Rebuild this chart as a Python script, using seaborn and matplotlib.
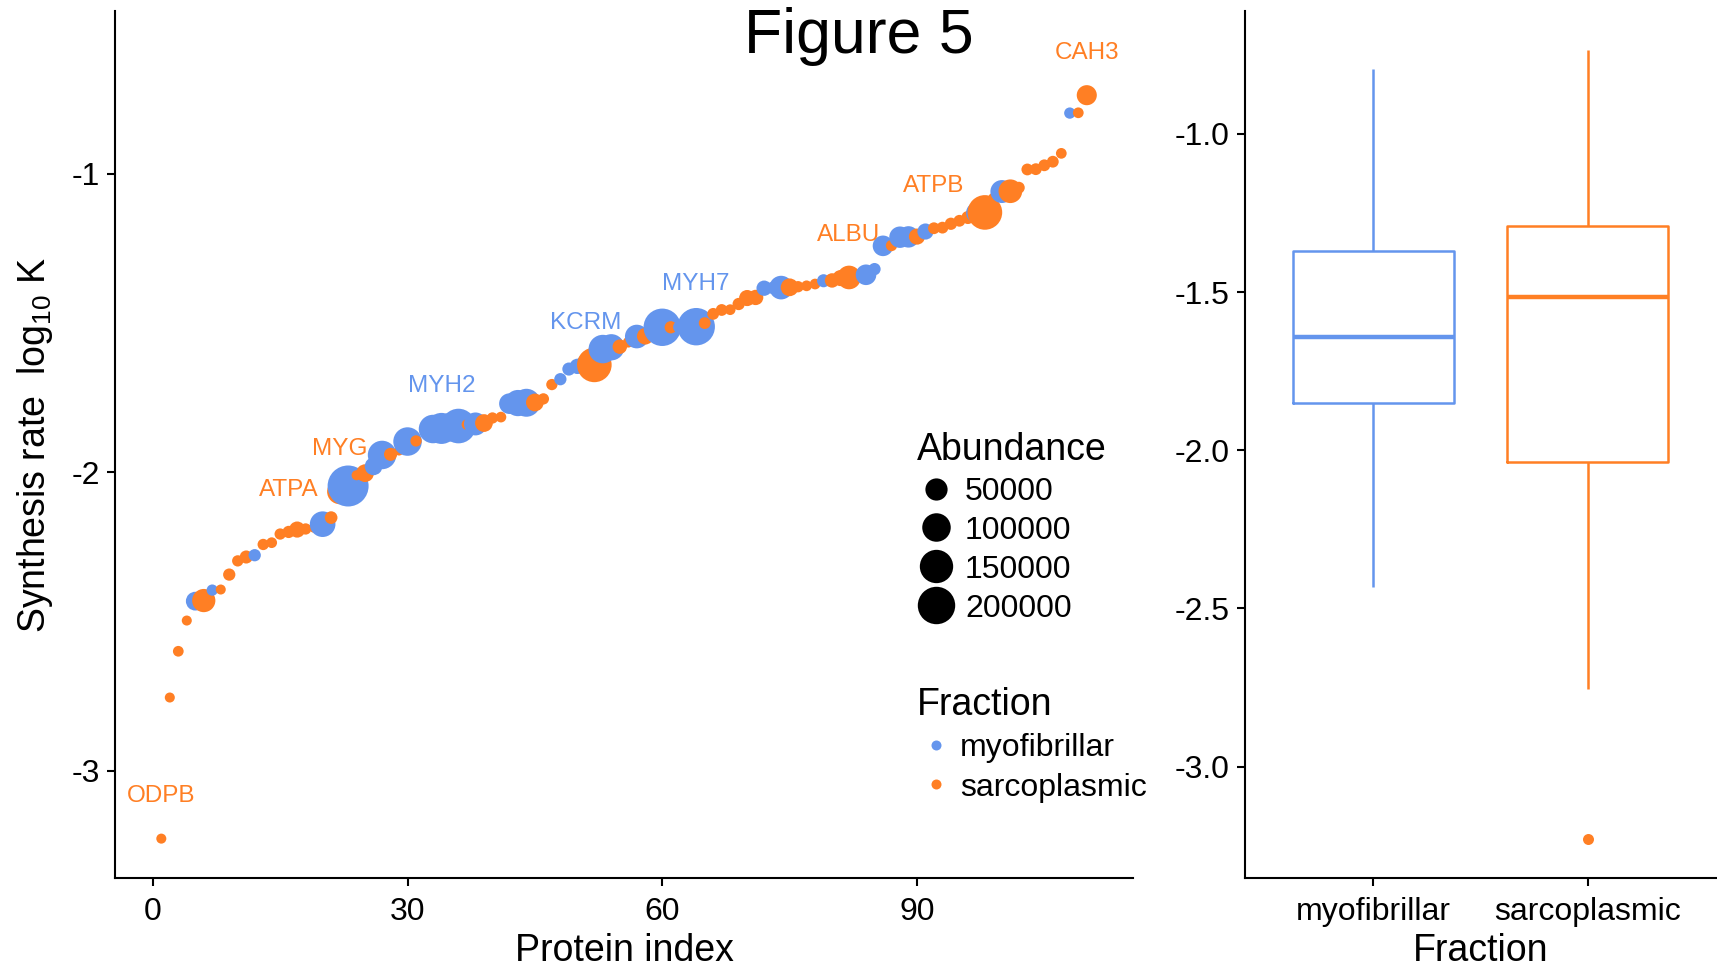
import numpy as np
import pandas as pd
import matplotlib
matplotlib.use("Agg")
import matplotlib.pyplot as plt
from matplotlib.lines import Line2D
import seaborn as sns

# ---- data: proteins ordered by synthesis rate (log10 K) ----
rate = [
    -3.228, -2.755, -2.600, -2.497, -2.432, -2.430, -2.395, -2.393, -2.343, -2.297,
    -2.284, -2.278, -2.242, -2.236, -2.207, -2.200, -2.192, -2.190, -2.186, -2.174,
    -2.152, -2.065, -2.046, -2.010, -2.003, -1.980, -1.942, -1.940, -1.927, -1.897,
    -1.895, -1.860, -1.855, -1.853, -1.849, -1.845, -1.840, -1.838, -1.835, -1.818,
    -1.815, -1.770, -1.768, -1.767, -1.766, -1.754, -1.706, -1.688, -1.654, -1.645,
    -1.641, -1.640, -1.587, -1.581, -1.579, -1.564, -1.545, -1.544, -1.516, -1.514,
    -1.514, -1.513, -1.513, -1.512, -1.500, -1.469, -1.456, -1.455, -1.436, -1.416,
    -1.414, -1.383, -1.382, -1.381, -1.380, -1.378, -1.375, -1.369, -1.358, -1.357,
    -1.349, -1.347, -1.342, -1.338, -1.319, -1.241, -1.240, -1.212, -1.211, -1.210,
    -1.193, -1.182, -1.180, -1.167, -1.157, -1.146, -1.130, -1.129, -1.080, -1.059,
    -1.058, -1.046, -0.985, -0.984, -0.971, -0.959, -0.931, -0.796, -0.795, -0.736,
]

# m = myofibrillar, s = sarcoplasmic
fraction_code = [
    "s", "s", "s", "s", "m", "s", "m", "s", "s", "s",
    "s", "m", "s", "s", "s", "s", "s", "s", "s", "m",
    "s", "s", "m", "s", "s", "m", "m", "s", "s", "m",
    "s", "s", "m", "m", "m", "m", "s", "m", "s", "s",
    "s", "m", "m", "m", "s", "s", "s", "m", "m", "m",
    "m", "s", "m", "m", "s", "s", "m", "s", "s", "m",
    "s", "m", "s", "m", "s", "s", "s", "s", "s", "s",
    "s", "m", "m", "m", "s", "s", "s", "s", "m", "s",
    "s", "s", "s", "m", "m", "m", "s", "m", "m", "s",
    "m", "s", "s", "s", "s", "s", "m", "s", "s", "m",
    "s", "s", "s", "s", "s", "s", "s", "m", "s", "s",
]

abundance = [
    2000, 2000, 3000, 2000, 30000, 57000, 4000, 2000, 6000, 4000,
    8000, 6000, 4000, 3000, 4000, 6000, 18000, 4000, 2000, 75000,
    7000, 70000, 250000, 2000, 25000, 25000, 100000, 8000, 2000, 100000,
    4000, 2000, 100000, 125000, 100000, 165000, 3000, 55000, 25000, 4000,
    3000, 40000, 80000, 95000, 25000, 4000, 4000, 6000, 8000, 15000,
    40000, 165000, 100000, 80000, 12000, 3000, 60000, 20000, 2000, 200000,
    6000, 6000, 2000, 200000, 5000, 5000, 5000, 3000, 6000, 18000,
    15000, 15000, 6000, 60000, 25000, 4000, 3000, 3000, 8000, 12000,
    18000, 60000, 6000, 40000, 6000, 40000, 4000, 45000, 45000, 18000,
    18000, 5000, 5000, 6000, 5000, 8000, 40000, 165000, 2000, 55000,
    60000, 5000, 5000, 5000, 5000, 5000, 3000, 4000, 3000, 37000,
]

# named proteins: rank position -> gene label
label_rank = [1, 16, 22, 34, 51, 64, 82, 92, 110]
label_name = ["ODPB", "ATPA", "MYG", "MYH2", "KCRM", "MYH7", "ALBU", "ATPB", "CAH3"]

fraction_names = {"m": "myofibrillar", "s": "sarcoplasmic"}
fraction_order = ["myofibrillar", "sarcoplasmic"]
legend_sizes = [50000, 100000, 150000, 200000]

palette = {"myofibrillar": "#6495ED", "sarcoplasmic": "#FF7F24"}

df = pd.DataFrame({
    "rate": rate,
    "fraction": [fraction_names[c] for c in fraction_code],
    "abundance": abundance,
})
df = df.sort_values("rate", kind="stable").reset_index(drop=True)
df["index"] = np.arange(1, len(df) + 1)

# ---- styling ----
sns.set_theme(style="white")
plt.rcParams["font.family"] = ["Liberation Sans", "DejaVu Sans"]
plt.rcParams["mathtext.fontset"] = "custom"
plt.rcParams["mathtext.rm"] = "Liberation Sans"
plt.rcParams["mathtext.it"] = "Liberation Sans"
plt.rcParams["axes.unicode_minus"] = False
plt.rcParams["text.color"] = "black"
plt.rcParams["axes.labelcolor"] = "black"

DPI = 100
PX = 72.0 / DPI  # points per pixel


def marker_diameter_pt(v):
    return (7.0 + 0.068 * np.sqrt(v)) * PX


size_map = {v: marker_diameter_pt(v) ** 2 for v in sorted(set(df["abundance"]))}

fig = plt.figure(figsize=(17.17, 9.67), dpi=DPI)
ax = fig.add_axes([0.0670, 0.0920, 0.5929, 0.8966])
ax2 = fig.add_axes([0.7251, 0.0920, 0.2743, 0.8966])

# ---- left: synthesis rate by protein rank ----
sns.scatterplot(
    data=df, x="index", y="rate", hue="fraction", hue_order=fraction_order,
    size="abundance", sizes=size_map, palette=palette, linewidth=0,
    alpha=1.0, legend=False, ax=ax,
)

label_offset = 0.15
label_y = []
for rk, name in zip(label_rank, label_name):
    row = df.loc[df["index"] == rk].iloc[0]
    ly = row["rate"] + label_offset
    label_y.append(ly)
    ax.text(row["index"], ly, name, ha="center", va="center_baseline",
            fontsize=17.5, color=palette[row["fraction"]])

xmin, xmax = df["index"].min(), df["index"].max()
ymin = min(df["rate"].min(), min(label_y))
ymax = max(df["rate"].max(), max(label_y))
xpad = 0.05 * (xmax - xmin)
ypad = 0.05 * (ymax - ymin)
ax.set_xlim(xmin - xpad, xmax + xpad)
ax.set_ylim(ymin - ypad, ymax + ypad)
ax.set_xticks([0, 30, 60, 90])
ax.set_yticks([-3, -2, -1])
ax.set_xlabel("Protein index", fontsize=27, labelpad=4)
ax.set_ylabel("Synthesis rate  log$_{10}$ K", fontsize=27, labelpad=12)

# legends
size_handles = [
    Line2D([], [], marker="o", linestyle="", color="black",
           markersize=marker_diameter_pt(v), markeredgewidth=0)
    for v in legend_sizes
]
leg1 = ax.legend(
    size_handles, [str(v) for v in legend_sizes], title="Abundance",
    loc="upper left", bbox_to_anchor=(0.5248, 0.570), bbox_transform=fig.transFigure,
    frameon=False, fontsize=23, title_fontsize=27, borderpad=0,
    handlelength=1.2, handletextpad=0.3, labelspacing=0.28, alignment="left",
)
ax.add_artist(leg1)
frac_handles = [
    Line2D([], [], marker="o", linestyle="", color=palette[f],
           markersize=10 * PX, markeredgewidth=0)
    for f in fraction_order
]
ax.legend(
    frac_handles, fraction_order, title="Fraction",
    loc="upper left", bbox_to_anchor=(0.5248, 0.3056), bbox_transform=fig.transFigure,
    frameon=False, fontsize=23, title_fontsize=27, borderpad=0,
    handlelength=1.2, handletextpad=0.15, labelspacing=0.3, alignment="left",
)

# ---- right: distribution by fraction ----
sns.boxplot(
    data=df, x="fraction", y="rate", hue="fraction", order=fraction_order,
    hue_order=fraction_order, palette=palette, fill=False, width=0.75,
    linewidth=1.8, whis=1.5, legend=False, ax=ax2,
    medianprops={"linewidth": 3.2},
    capprops={"linewidth": 0},
    flierprops={"marker": "o", "markersize": 11 * PX, "markeredgewidth": 0},
)
for ln in ax2.lines:
    if ln.get_marker() == "o":
        ln.set_markerfacecolor(ln.get_markeredgecolor())
        ln.set_markeredgewidth(0)

rmin, rmax = df["rate"].min(), df["rate"].max()
rpad = 0.05 * (rmax - rmin)
ax2.set_ylim(rmin - rpad, rmax + rpad)
ax2.set_xlim(-0.6, 1.6)
ax2.set_yticks([-3.0, -2.5, -2.0, -1.5, -1.0])
ax2.set_yticklabels(["-3.0", "-2.5", "-2.0", "-1.5", "-1.0"])
ax2.set_xlabel("Fraction", fontsize=27, labelpad=4)
ax2.set_ylabel("")

for a in (ax, ax2):
    a.set_facecolor("white")
    for side in ("top", "right"):
        a.spines[side].set_visible(False)
    for side in ("left", "bottom"):
        a.spines[side].set_color("black")
        a.spines[side].set_linewidth(1.5)
    a.tick_params(axis="both", which="major", direction="out", length=6,
                  width=1.5, color="black", labelsize=23, labelcolor="black",
                  pad=5, left=True, bottom=True)
    a.tick_params(axis="x", pad=8)
    a.grid(False)

fig.text(0.5, 1 - 53 / 967, "Figure 5", ha="center", va="baseline", fontsize=45)

fig.savefig("out.png", dpi=DPI, facecolor="white")
